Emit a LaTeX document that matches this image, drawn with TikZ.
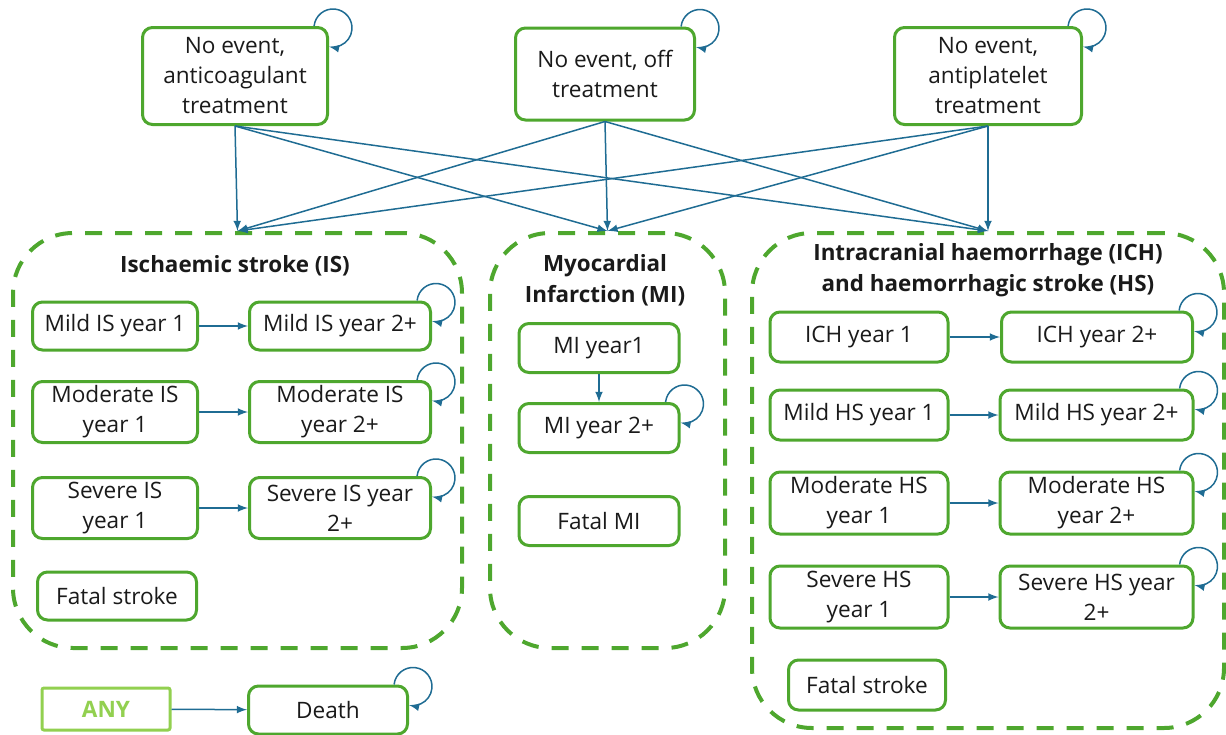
\documentclass[tikz,border=0pt]{standalone}
\usepackage{fontspec}
\setmainfont{Open Sans}
\usetikzlibrary{arrows}
\definecolor{boxgreen}{HTML}{4EA72E}
\definecolor{anygreen}{HTML}{92D050}
\definecolor{flowblue}{HTML}{1F6C93}
\definecolor{txt}{HTML}{1A1A1A}
\tikzset{
  state/.style={draw=boxgreen, line width=1.5pt, rounded corners=5pt, align=center,
    fill=white, inner sep=1pt, text=txt, font=\fontsize{11.3}{15}\selectfont},
  group/.style={draw=boxgreen, line width=2pt, dash pattern=on 8.5pt off 6.5pt,
    rounded corners=30pt},
  grouptitle/.style={text=txt, align=center, font=\bfseries\fontsize{11.2}{15.5}\selectfont},
  flow/.style={draw=flowblue, line width=0.75pt, -latex},
}
\begin{document}
\begin{tikzpicture}[x=0.5pt, y=-0.5pt]
	\useasboundingbox (0,0) rectangle (1226,734);
	% groups
	\node[group, minimum width=224.5pt, minimum height=207.5pt] (isgroup) at (237.5,440.5) {};
	\node[group, minimum width=117.5pt, minimum height=207.5pt] (migroup) at (607.5,440.5) {};
	\node[group, minimum width=236pt, minimum height=247.5pt] (hsgroup) at (988,480.5) {};
	\node[grouptitle] (istitle) at (235,266) {Ischaemic stroke (IS)};
	\node[grouptitle] (mititle) at (605,280) {Myocardial\\Infarction (MI)};
	\node[grouptitle] (hstitle) at (988,270) {Intracranial haemorrhage (ICH)\\and haemorrhagic stroke (HS)};

	% no event states
	\node[state, minimum width=92.5pt, minimum height=48.5pt] (anticoag) at (235,76) {No event,\\anticoagulant\\treatment};
	\node[state, minimum width=89.5pt, minimum height=46pt] (offtreat) at (605,74) {No event, off\\treatment};
	\node[state, minimum width=93.5pt, minimum height=48.5pt] (antiplat) at (988,76) {No event,\\antiplatelet\\treatment};

	% ischaemic stroke
	\node[state, minimum width=82.5pt, minimum height=24pt] (mildis1) at (115,326) {Mild IS year 1};
	\node[state, minimum width=90.5pt, minimum height=24pt] (mildis2) at (340,326) {Mild IS year 2+};
	\node[state, minimum width=82.5pt, minimum height=30.5pt] (modis1) at (115,412) {Moderate IS\\year 1};
	\node[state, minimum width=90.5pt, minimum height=30.5pt] (modis2) at (340,412) {Moderate IS\\year 2+};
	\node[state, minimum width=82.5pt, minimum height=30.5pt] (sevis1) at (115,508) {Severe IS\\year 1};
	\node[state, minimum width=90.5pt, minimum height=30.5pt] (sevis2) at (340,508) {Severe IS year\\2+};
	\node[state, minimum width=79.5pt, minimum height=24pt] (fatalis) at (117,596) {Fatal stroke};

	% myocardial infarction
	\node[state, minimum width=80pt, minimum height=24.5pt] (mi1) at (599,348) {MI year1};
	\node[state, minimum width=80pt, minimum height=24.5pt] (mi2) at (599,428) {MI year 2+};
	\node[state, minimum width=80pt, minimum height=24.5pt] (fatalmi) at (599,521) {Fatal MI};

	% ICH and haemorrhagic stroke
	\node[state, minimum width=89pt, minimum height=25pt] (ich1) at (859,337) {ICH year 1};
	\node[state, minimum width=95.5pt, minimum height=25pt] (ich2) at (1097,337) {ICH year 2+};
	\node[state, minimum width=89pt, minimum height=25pt] (mildhs1) at (859,415) {Mild HS year 1};
	\node[state, minimum width=96.5pt, minimum height=25pt] (mildhs2) at (1096.5,415) {Mild HS year 2+};
	\node[state, minimum width=89pt, minimum height=31pt] (modhs1) at (859,503) {Moderate HS\\year 1};
	\node[state, minimum width=96.5pt, minimum height=31pt] (modhs2) at (1096.5,503) {Moderate HS\\year 2+};
	\node[state, minimum width=89pt, minimum height=31pt] (sevhs1) at (859,597) {Severe HS\\year 1};
	\node[state, minimum width=96.5pt, minimum height=31pt] (sevhs2) at (1096.5,597) {Severe HS year\\2+};
	\node[state, minimum width=78.5pt, minimum height=25pt] (fatalhs) at (867,685) {Fatal stroke};

	% death
	\node[state, draw=anygreen, rounded corners=1pt, text=anygreen, font=\bfseries\fontsize{11.3}{15}\selectfont,
		minimum width=64pt, minimum height=21pt] (any) at (106,709) {ANY};
	\node[state, minimum width=79.5pt, minimum height=24pt] (death) at (328,710) {Death};

	% transitions from no event
	\foreach \src in {anticoag,offtreat,antiplat}
		\foreach \dst in {isgroup,migroup,hsgroup}
			\draw[flow] (\src.south) -- (\dst.north);

	% transitions within groups
	\draw[flow] (mildis1) -- (mildis2);
	\draw[flow] (modis1) -- (modis2);
	\draw[flow] (sevis1) -- (sevis2);
	\draw[flow] (mi1) -- (mi2);
	\draw[flow] (ich1) -- (ich2);
	\draw[flow] (mildhs1) -- (mildhs2);
	\draw[flow] (modhs1) -- (modhs2);
	\draw[flow] (sevhs1) -- (sevhs2);
	\draw[flow] (any) -- (death);

	% self loops
	\foreach \n in {anticoag,offtreat,antiplat,mildis2,modis2,sevis2,mi2,ich2,mildhs2,modhs2,sevhs2,death}
		\draw[flow] ([xshift=-7.45pt]\n.north east) arc[start angle=174, end angle=-102, radius=9.5pt];
\end{tikzpicture}
\end{document}
